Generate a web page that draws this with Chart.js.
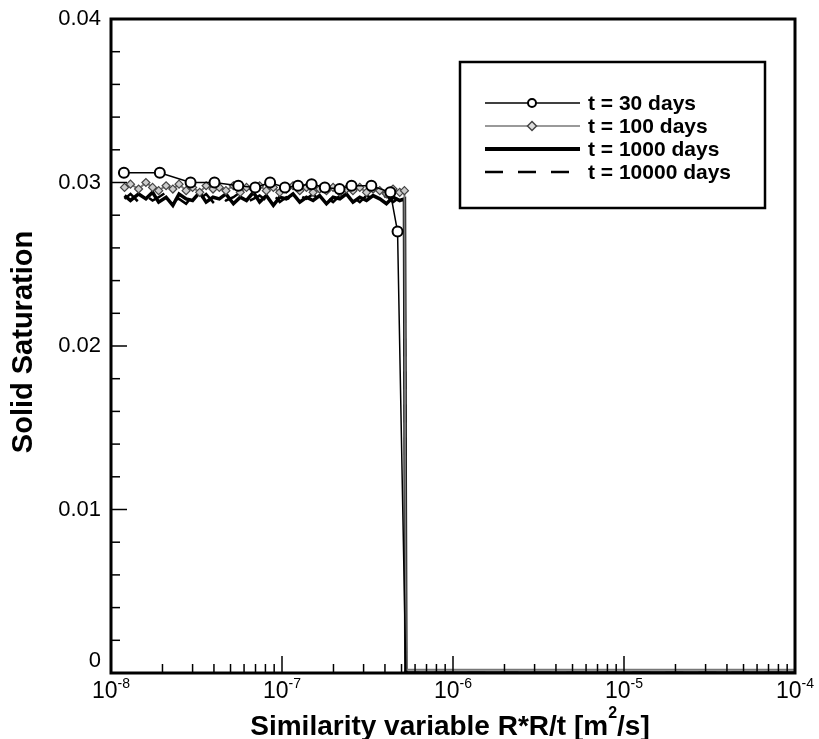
<!DOCTYPE html>
<html>
<head>
<meta charset="utf-8">
<script src="https://cdn.jsdelivr.net/npm/chart.js@4.4.1/dist/chart.umd.min.js"></script>
<style>
html, body { margin: 0; padding: 0; background: #fff; }
#wrap { width: 819px; height: 739px; }
</style>
</head>
<body>
<div id="wrap"><canvas id="grafico"></canvas></div>
<script>
// --- dati ---
const xTickValues = [1e-8, 1e-7, 1e-6, 1e-5, 1e-4];
const xTickExp = ['-8', '-7', '-6', '-5', '-4'];
const yTickValues = [0, 0.01, 0.02, 0.03, 0.04];
const yTickLabels = ['0', '0.01', '0.02', '0.03', '0.04'];
const seriesLabels = ['t = 30 days', 't = 100 days', 't = 1000 days', 't = 10000 days'];

// t = 30 days (cerchi)
const x30 = [1.19e-8, 1.93e-8, 2.92e-8, 4.03e-8, 5.55e-8, 6.97e-8, 8.52e-8, 1.04e-7, 1.24e-7,
             1.49e-7, 1.78e-7, 2.17e-7, 2.55e-7, 3.33e-7, 4.3e-7, 4.74e-7, 5.3e-7, 1e-4];
const y30 = [0.0306, 0.0306, 0.0300, 0.0300, 0.0298, 0.0297, 0.0300, 0.0297, 0.0298,
             0.0299, 0.0297, 0.0296, 0.0298, 0.0298, 0.0294, 0.0270, 0, 0];

// ascisse comuni per le curve "rumorose"
const xNoisy = [1.2e-8, 1.3e-8, 1.45e-8, 1.6e-8, 1.75e-8, 1.9e-8, 2.1e-8, 2.3e-8, 2.5e-8, 2.75e-8,
                3.0e-8, 3.3e-8, 3.6e-8, 3.95e-8, 4.3e-8, 4.7e-8, 5.2e-8, 5.7e-8, 6.2e-8, 6.8e-8,
                7.4e-8, 8.1e-8, 8.9e-8, 9.7e-8, 1.06e-7, 1.16e-7, 1.27e-7, 1.39e-7, 1.52e-7, 1.66e-7,
                1.82e-7, 1.99e-7, 2.18e-7, 2.38e-7, 2.6e-7, 2.85e-7, 3.12e-7, 3.41e-7, 3.73e-7, 4.08e-7,
                4.46e-7, 4.88e-7, 5.2e-7, 5.3e-7, 1e-4];

// t = 100 days (rombi)
const y100 = [0.0297, 0.0299, 0.0296, 0.0300, 0.0297, 0.0295, 0.0298, 0.0296, 0.0299, 0.0295,
              0.0297, 0.0294, 0.0298, 0.0296, 0.0297, 0.0295, 0.0298, 0.0294, 0.0297, 0.0296,
              0.0298, 0.0295, 0.0297, 0.0294, 0.0296, 0.0298, 0.0295, 0.0297, 0.0294, 0.0296,
              0.0295, 0.0297, 0.0294, 0.0296, 0.0295, 0.0297, 0.0294, 0.0296, 0.0295, 0.0293,
              0.0296, 0.0294, 0.0295, 0.0002, 0.0002];

// t = 1000 days (linea spessa)
const y1000 = [0.0292, 0.0289, 0.0293, 0.0290, 0.0294, 0.0288, 0.0291, 0.0286, 0.0293, 0.0290,
               0.0289, 0.0294, 0.0288, 0.0291, 0.0290, 0.0293, 0.0287, 0.0291, 0.0289, 0.0294,
               0.0288, 0.0292, 0.0286, 0.0291, 0.0290, 0.0293, 0.0288, 0.0291, 0.0289, 0.0292,
               0.0287, 0.0291, 0.0290, 0.0293, 0.0288, 0.0291, 0.0289, 0.0292, 0.0290, 0.0287,
               0.0291, 0.0289, 0.0290, 0, 0];

// t = 10000 days (tratteggiata)
const y10000 = [0.0290, 0.0293, 0.0288, 0.0292, 0.0289, 0.0291, 0.0294, 0.0289, 0.0290, 0.0287,
                0.0292, 0.0290, 0.0293, 0.0288, 0.0292, 0.0289, 0.0291, 0.0294, 0.0288, 0.0290,
                0.0292, 0.0289, 0.0293, 0.0288, 0.0291, 0.0289, 0.0292, 0.0290, 0.0293, 0.0289,
                0.0291, 0.0288, 0.0292, 0.0290, 0.0291, 0.0288, 0.0292, 0.0290, 0.0289, 0.0292,
                0.0288, 0.0291, 0.0290, 0, 0];

const FONT = '"Liberation Sans", Arial, sans-serif';
const toPoints = (xs, ys) => xs.map((x, i) => ({ x: x, y: ys[i] }));
// niente marker sulla coda a zero
const markerSize = r => ctx => (ctx.raw && ctx.raw.y < 0.001 ? 0 : r);

// --- assi, tacche, titoli e legenda disegnati a mano (stile Tecplot) ---
const assiPlugin = {
    id: 'assi',
    afterDatasetsDraw(chart) {
        const { ctx, chartArea: a, scales: { x, y } } = chart;
        ctx.save();
        ctx.strokeStyle = '#000';
        ctx.fillStyle = '#000';

        // tacche asse y
        ctx.lineWidth = 1.5;
        for (let i = 1; i < 20; i++) {
            const py = y.getPixelForValue(i * 0.002);
            const len = (i % 5 === 0) ? 16 : 9;
            ctx.beginPath();
            ctx.moveTo(a.left, py); ctx.lineTo(a.left + len, py);
            ctx.stroke();
        }
        // tacche asse x (logaritmico)
        for (let d = 0; d < xTickValues.length; d++) {
            const dec = xTickValues[d];
            let px = x.getPixelForValue(dec);
            ctx.beginPath();
            ctx.moveTo(px, a.bottom); ctx.lineTo(px, a.bottom - 17);
            ctx.stroke();
            if (d === xTickValues.length - 1) break;
            for (let k = 2; k <= 9; k++) {
                px = x.getPixelForValue(k * dec);
                ctx.beginPath();
                ctx.moveTo(px, a.bottom); ctx.lineTo(px, a.bottom - 9);
                ctx.stroke();
            }
        }

        // cornice
        ctx.lineWidth = 3;
        ctx.strokeRect(a.left, a.top, a.right - a.left, a.bottom - a.top);

        // etichette y
        ctx.font = '22px ' + FONT;
        ctx.textAlign = 'right';
        ctx.textBaseline = 'middle';
        yTickValues.forEach((v, i) => {
            let py = y.getPixelForValue(v);
            let px = 101;
            if (v === 0) { py -= 12; px = 101; }
            ctx.fillText(yTickLabels[i], px, py);
        });

        // etichette x con esponente
        ctx.textBaseline = 'alphabetic';
        ctx.textAlign = 'left';
        xTickValues.forEach((v, i) => {
            const px = x.getPixelForValue(v);
            ctx.font = '23px ' + FONT;
            const wBase = ctx.measureText('10').width;
            ctx.font = '14px ' + FONT;
            const wExp = ctx.measureText(xTickExp[i]).width;
            const start = px - (wBase + wExp) / 2;
            ctx.font = '23px ' + FONT;
            ctx.fillText('10', start, 698);
            ctx.font = '14px ' + FONT;
            ctx.fillText(xTickExp[i], start + wBase, 688);
        });

        // titoli assi
        const t1 = 'Similarity variable R*R/t [m';
        const t2 = '/s]';
        ctx.font = 'bold 28px ' + FONT;
        const w1 = ctx.measureText(t1).width;
        const w2 = ctx.measureText(t2).width;
        ctx.font = 'bold 16px ' + FONT;
        const wS = ctx.measureText('2').width;
        const sx = 450 - (w1 + wS + w2) / 2;
        ctx.font = 'bold 28px ' + FONT;
        ctx.fillText(t1, sx, 735);
        ctx.fillText(t2, sx + w1 + wS, 735);
        ctx.font = 'bold 16px ' + FONT;
        ctx.fillText('2', sx + w1, 718);

        ctx.save();
        ctx.translate(24, 342);
        ctx.rotate(-Math.PI / 2);
        ctx.font = 'bold 29px ' + FONT;
        ctx.textAlign = 'center';
        ctx.textBaseline = 'middle';
        ctx.fillText('Solid Saturation', 0, 0);
        ctx.restore();

        // legenda
        ctx.fillStyle = '#fff';
        ctx.fillRect(460, 62, 305, 146);
        ctx.lineWidth = 2.5;
        ctx.strokeRect(460, 62, 305, 146);
        const rows = [103, 126, 149, 172];
        ctx.font = 'bold 21px ' + FONT;
        ctx.textAlign = 'left';
        ctx.textBaseline = 'middle';
        rows.forEach((ry, i) => {
            const ds = chart.data.datasets[i];
            ctx.strokeStyle = ds.borderColor;
            ctx.lineWidth = i === 2 ? 4 : (i === 3 ? 2.5 : 1.5);
            ctx.setLineDash(i === 3 ? [18, 15] : []);
            ctx.beginPath();
            ctx.moveTo(485, ry); ctx.lineTo(580, ry);
            ctx.stroke();
            ctx.setLineDash([]);
            if (i === 0) {
                ctx.lineWidth = 2;
                ctx.strokeStyle = '#000';
                ctx.fillStyle = '#fff';
                ctx.beginPath(); ctx.arc(532, ry, 4, 0, Math.PI * 2); ctx.fill(); ctx.stroke();
            } else if (i === 1) {
                ctx.lineWidth = 1.5;
                ctx.strokeStyle = '#444';
                ctx.fillStyle = '#ddd';
                ctx.beginPath();
                ctx.moveTo(532, ry - 4.5); ctx.lineTo(536.5, ry); ctx.lineTo(532, ry + 4.5); ctx.lineTo(527.5, ry);
                ctx.closePath(); ctx.fill(); ctx.stroke();
            }
            ctx.fillStyle = '#000';
            ctx.fillText(seriesLabels[i], 588, ry + 1);
        });
        ctx.restore();
    }
};

new Chart(document.getElementById('grafico'), {
    type: 'line',
    data: {
        datasets: [
            {
                label: seriesLabels[0],
                data: toPoints(x30, y30),
                borderColor: '#000',
                borderWidth: 1.5,
                pointStyle: 'circle',
                pointRadius: markerSize(5),
                pointBorderWidth: 2,
                pointBorderColor: '#000',
                pointBackgroundColor: '#fff'
            },
            {
                label: seriesLabels[1],
                data: toPoints(xNoisy, y100),
                borderColor: '#777',
                borderWidth: 2,
                pointStyle: 'rectRot',
                pointRadius: markerSize(4),
                pointBorderWidth: 1.2,
                pointBorderColor: '#444',
                pointBackgroundColor: '#ccc'
            },
            {
                label: seriesLabels[2],
                data: toPoints(xNoisy, y1000),
                borderColor: '#000',
                borderWidth: 3.5,
                pointRadius: 0
            },
            {
                label: seriesLabels[3],
                data: toPoints(xNoisy, y10000),
                borderColor: '#000',
                borderWidth: 2.5,
                borderDash: [18, 15],
                pointRadius: 0
            }
        ]
    },
    options: {
        responsive: true,
        maintainAspectRatio: false,
        animation: false,
        layout: { padding: { left: 111, right: 24, top: 19, bottom: 66 } },
        plugins: {
            legend: { display: false },
            tooltip: { enabled: false }
        },
        scales: {
            x: { type: 'logarithmic', min: 1e-8, max: 1e-4, display: false },
            y: { type: 'linear', min: 0, max: 0.04, display: false }
        }
    },
    plugins: [assiPlugin]
});
</script>
</body>
</html>
